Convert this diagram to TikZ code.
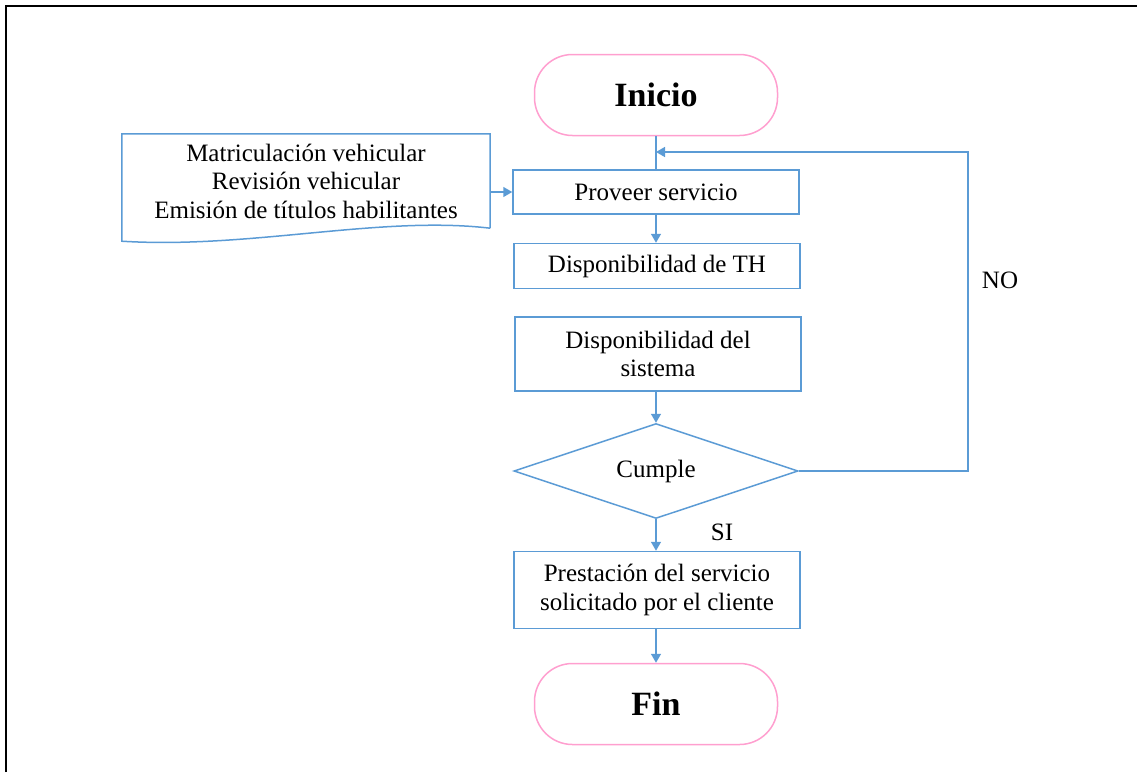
\documentclass[tikz,border=0pt]{standalone}
\usepackage{fontspec}
\setmainfont{Liberation Serif}
\usetikzlibrary{arrows.meta, shapes.geometric}
\definecolor{flowblue}{HTML}{5B9BD5}
\definecolor{flowpink}{HTML}{FF9FCF}

\begin{document}
\begin{tikzpicture}[x=1pt, y=-1pt, font=\fontsize{25}{28.5}\selectfont,
  terminal/.style={draw=flowpink, line width=1.5pt, rounded corners=38pt, minimum width=243pt, minimum height=81pt, font=\fontsize{34}{38}\selectfont\bfseries},
  proc/.style={draw=flowblue, line width=1.5pt, minimum width=286pt, align=center},
  decision/.style={draw=flowblue, line width=1.5pt, diamond, aspect=3, minimum width=284pt, minimum height=95pt, inner sep=0pt},
  line/.style={draw=flowblue, line width=1.5pt},
  arrow/.style={line, -{Triangle[length=9pt, width=10pt]}}]
\useasboundingbox (0,0) rectangle (1137,772);
\draw[line width=2pt] (6,772) -- (6,6) -- (1137,6);
\node[terminal] (inicio) at (656,95) {Inicio};
\node[align=center, minimum width=368pt, minimum height=94pt, inner sep=0pt] (docin) at (306,181) {Matriculación vehicular\\Revisión vehicular\\Emisión de títulos habilitantes};
\draw[line] (docin.south east) -- (docin.north east) -- (docin.north west) -- ([yshift=-13pt]docin.south west) .. controls ([xshift=128pt, yshift=-21pt]docin.south west) and ([xshift=-110pt, yshift=13pt]docin.south east) .. (docin.south east);
\node[proc, minimum height=44pt] (proveer) at (656,192) {Proveer servicio};
\node[proc, minimum height=45pt] (dispTH) at (657,266) {Disponibilidad de TH};
\node[proc, minimum height=74pt] (dispSis) at (658,354) {Disponibilidad del\\sistema};
\node[decision] (cumple) at (656,471) {Cumple};
\node[proc, minimum height=77pt] (prestacion) at (657,590) {Prestación del servicio\\solicitado por el cliente};
\node[terminal] (fin) at (656,704) {Fin};
\coordinate (junc) at (656,152);
\coordinate (loopR) at (968,152);
\draw[line] (inicio.south) -- (proveer.north);
\draw[arrow] (docin.east |- proveer.west) -- (proveer.west);
\draw[arrow] (proveer.south) -- (proveer.south |- dispTH.north);
\draw[arrow] (dispSis.south -| cumple.north) -- (cumple.north);
\draw[arrow] (cumple.south) -- (cumple.south |- prestacion.north);
\draw[arrow] (prestacion.south -| fin.north) -- (fin.north);
\draw[arrow] (cumple.east) -| (loopR) -- (junc);
\node (no) at (1000,280) {NO};
\node (si) at (722,532) {SI};
\end{tikzpicture}
\end{document}
